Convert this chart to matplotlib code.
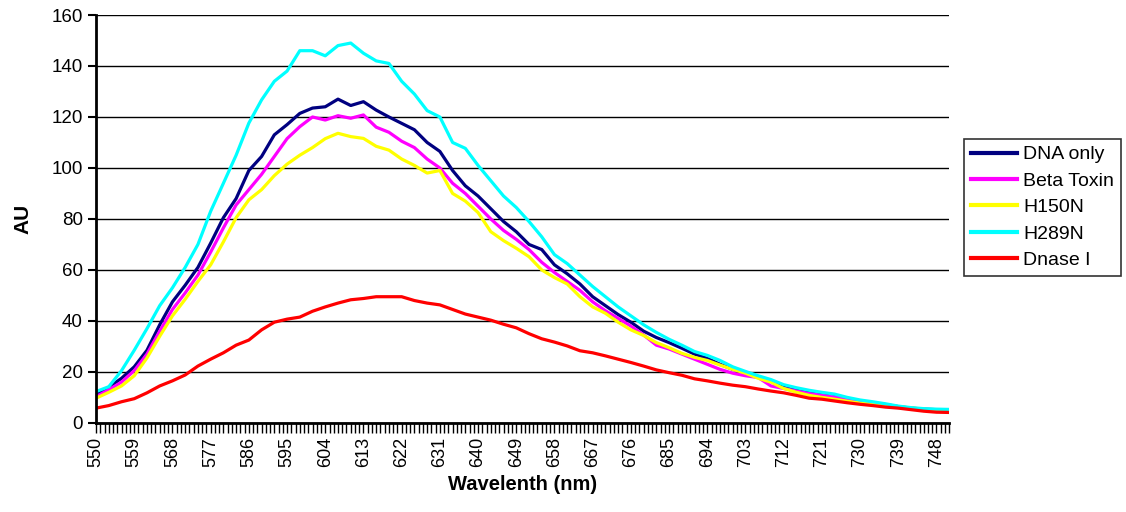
import numpy as np
import matplotlib.pyplot as plt
from matplotlib.ticker import MultipleLocator

plt.rcParams['font.family'] = ['Liberation Sans', 'DejaVu Sans']

# wavelength samples (nm)
wavelength = list(range(550, 752, 3))

dna_only = [11, 14, 17.5, 22, 28.5, 38.5, 47.5, 54, 61, 70.5, 80.5, 88, 99, 104.5, 113, 117, 121.4, 123.5, 124, 127,
            124.5, 126, 122.7, 120, 117.5, 115, 110, 106.5, 99, 93, 89, 84, 79, 75, 70, 68, 62, 58.5, 54.5, 49.5,
            46, 42.5, 39.5, 36, 33.5, 31.5, 29.3, 27, 25.3, 23, 21, 19.7, 18, 16.5, 14.5, 13.3, 12.3, 11.5, 10.8, 9.5,
            8.6, 7.9, 7.2, 6.4, 5.8, 5.4, 5.2, 5.1]
beta_toxin = [10.3, 13, 16, 20.5, 27, 36, 44.5, 51, 58, 67, 76.5, 85.5, 91.5, 97.5, 104.5, 111.5, 116.2, 120, 118.8, 120.5,
              119.5, 120.8, 116, 114, 110.5, 108, 103.5, 100, 94, 90, 85, 80, 75.5, 72, 68, 63, 59, 55.5, 52, 47.5,
              44, 41, 38, 34.5, 30.5, 29, 27, 25, 23, 21, 19.5, 18.5, 17.8, 14.5, 13.5, 12.5, 11.5, 10.8, 10.2, 9.3,
              8.4, 7.7, 7, 6.2, 5.7, 5.3, 5, 4.9]
h150n = [9.7, 12, 14.5, 18.5, 25.5, 34, 42, 48.5, 55.5, 62, 71, 80.5, 87.5, 91.5, 97, 101.5, 105, 108, 111.5, 113.6,
         112.3, 111.6, 108.5, 107, 103.5, 101, 98, 99, 90, 87, 82.5, 75, 71.5, 68.5, 65.2, 60, 57, 54.5, 49.5, 45.5,
         43, 39.5, 36.5, 34.3, 31.5, 29.5, 27.3, 25.7, 24.5, 22.7, 21, 19.5, 17.5, 16, 13.5, 12, 10.8, 10, 9.3, 8.5,
         7.8, 7.3, 6.8, 6.3, 5.9, 5.4, 4.5, 4.8]
h289n = [12.3, 14.2, 20.5, 28.5, 37, 46, 53, 61, 70, 83, 94, 105, 117.6, 126.7, 134, 138, 146, 146, 144, 148,
         149, 145, 142, 141, 134, 129, 122.5, 120, 110, 107.7, 101, 95, 89, 84.5, 79, 73, 66, 62.5, 58, 53.5,
         49.5, 45.5, 42, 38.5, 35.5, 32.8, 30.5, 28, 26.5, 24.5, 22, 20.2, 18.5, 17, 15, 13.8, 12.8, 12, 11.3, 10,
         9, 8.3, 7.5, 6.6, 6, 5.6, 5.4, 5.3]
dnase_i = [5.8, 6.8, 8.3, 9.5, 11.8, 14.5, 16.5, 18.8, 22.3, 25, 27.5, 30.5, 32.5, 36.5, 39.5, 40.7, 41.5, 43.8, 45.5, 47,
           48.3, 48.8, 49.5, 49.5, 49.5, 48, 47, 46.3, 44.5, 42.7, 41.5, 40.3, 38.7, 37.3, 35, 33, 31.7, 30.2, 28.3, 27.5,
           26.3, 25, 23.7, 22.3, 20.8, 19.7, 18.7, 17.3, 16.5, 15.6, 14.8, 14.2, 13.3, 12.5, 11.8, 10.8, 9.7, 9.3, 8.6, 7.9,
           7.3, 6.8, 6.2, 5.8, 5.2, 4.6, 4.2, 4.1]

series = [("DNA only", dna_only, "#000080"),
          ("Beta Toxin", beta_toxin, "#ff00ff"),
          ("H150N", h150n, "#ffff00"),
          ("H289N", h289n, "#00ffff"),
          ("Dnase I", dnase_i, "#ff0000")]

fig = plt.figure(figsize=(11.26, 5.12), dpi=100)
ax = fig.add_axes([0.0853, 0.174, 0.7577, 0.7967])

for name, vals, col in series:
    ax.plot(wavelength, vals, color=col, lw=2.3, label=name)

ax.set_xlim(550, 751)
ax.set_ylim(0, 160)
ax.set_yticks(np.arange(0, 161, 20))
ax.set_xticks(np.arange(550, 750, 9))
ax.xaxis.set_minor_locator(MultipleLocator(1))
ax.tick_params(axis="x", which="both", direction="out", length=7, width=1, labelrotation=90, labelsize=13, pad=3)
ax.tick_params(axis="y", which="major", direction="out", length=6, width=1.5, labelsize=13.5)
ax.yaxis.grid(True, color="black", lw=1)
ax.set_axisbelow(True)

for s in ["top", "right"]:
    ax.spines[s].set_visible(False)
ax.spines["left"].set_linewidth(2)
ax.spines["bottom"].set_linewidth(2)

ax.set_xlabel("Wavelenth (nm)", fontsize=14.5, fontweight="bold", labelpad=6)
ax.set_ylabel("AU", fontsize=15, fontweight="bold", labelpad=14)

leg = fig.legend(loc="upper left", bbox_to_anchor=(0.856, 0.7285), fontsize=14, frameon=True,
                 fancybox=False, edgecolor="black", handlelength=2.4, handletextpad=0.3,
                 labelspacing=0.45, borderpad=0.35, borderaxespad=0)
leg.get_frame().set_linewidth(1.2)
for l in leg.get_lines():
    l.set_linewidth(3)

fig.savefig("out.png", dpi=100)
